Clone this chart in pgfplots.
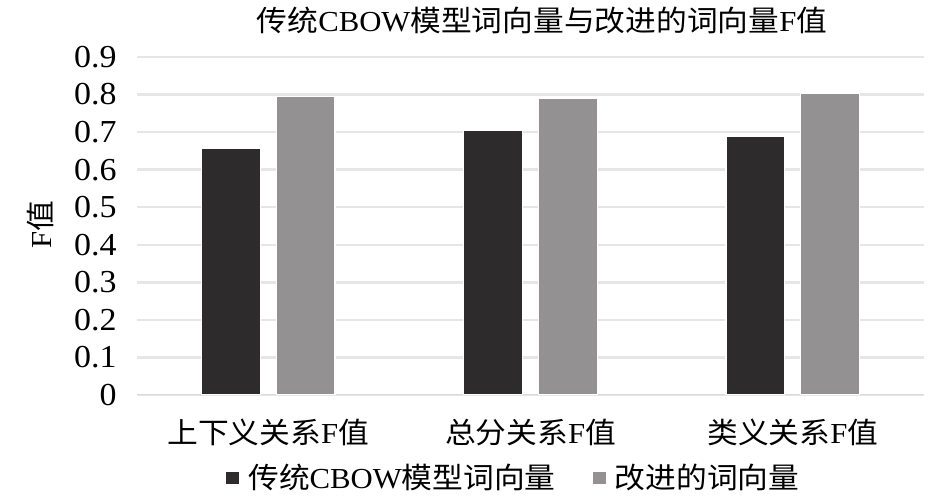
\documentclass[border=0pt]{standalone}
\usepackage{fontspec}
\usepackage{pgfplots}
\pgfplotsset{compat=1.18}
\setmainfont[FakeStretch=1.06]{Liberation Serif}
\newfontfamily\cjk[FakeStretch=1.06]{Noto Sans CJK SC}
\definecolor{cbow}{HTML}{2D2B2C}
\definecolor{impr}{HTML}{939192}
\definecolor{gridc}{HTML}{E6E6E6}

\pgfplotstableread{
x old new
0 0.657 0.795
1 0.705 0.789
2 0.689 0.804
}\fvals

\begin{document}
\fontsize{14.5bp}{17bp}\selectfont
\begin{tikzpicture}
\path[use as bounding box] (0,0) rectangle (472.5bp,251.5bp);
\begin{axis}[
  at={(68.5bp,54bp)}, anchor=south west,
  scale only axis, width=393.5bp, height=169bp,
  xmin=-0.5, xmax=2.5, ymin=0, ymax=0.9,
  xtick={0,1,2},
  xticklabels={{\cjk 上下义关系}F{\cjk 值}, {\cjk 总分关系}F{\cjk 值}, {\cjk 类义关系}F{\cjk 值}},
  ytick={0,0.1,...,0.9},
  yticklabel style={/pgf/number format/fixed, /pgf/number format/precision=1,
    /pgf/number format/assume math mode=true, inner sep=0pt, xshift=-10bp,
    font=\fontsize{16bp}{18bp}\selectfont},
  xticklabel style={inner sep=0pt, yshift=-12bp},
  major tick length=0pt,
  axis line style={draw=none},
  ymajorgrids, grid style={line width=1.2bp, color=gridc},
  bar width=0.224,
  legend columns=2,
  legend style={draw=none, fill=none, at={(0.478,-0.2456)}, anchor=center,
    nodes={inner sep=1bp, anchor=west},
    /tikz/every even column/.append style={column sep=17bp}},
  legend image code/.code={\fill[#1] (0bp,-3.5bp) rectangle (7bp,3.5bp);},
]
\draw[line width=1.2bp, color=gray!30] (axis cs:-0.5,0) -- (axis cs:2.5,0);
\addplot[ybar, bar shift=-0.1426, fill=cbow, draw=white, line width=0.6bp] table[x=x, y=old] {\fvals};
\addlegendentry{\hspace{3bp}{\cjk 传统}CBOW{\cjk 模型词向量}}
\addplot[ybar, bar shift=0.1426, fill=impr, draw=white, line width=0.6bp] table[x=x, y=new] {\fvals};
\addlegendentry{\hspace{3bp}{\cjk 改进的词向量}}
\end{axis}
\node at (271bp,241.5bp) {{\cjk 传统}CBOW{\cjk 模型词向量与改进的词向量}F{\cjk 值}};
\node[rotate=90] at (20bp,139bp) {F{\cjk 值}};
\end{tikzpicture}
\end{document}
